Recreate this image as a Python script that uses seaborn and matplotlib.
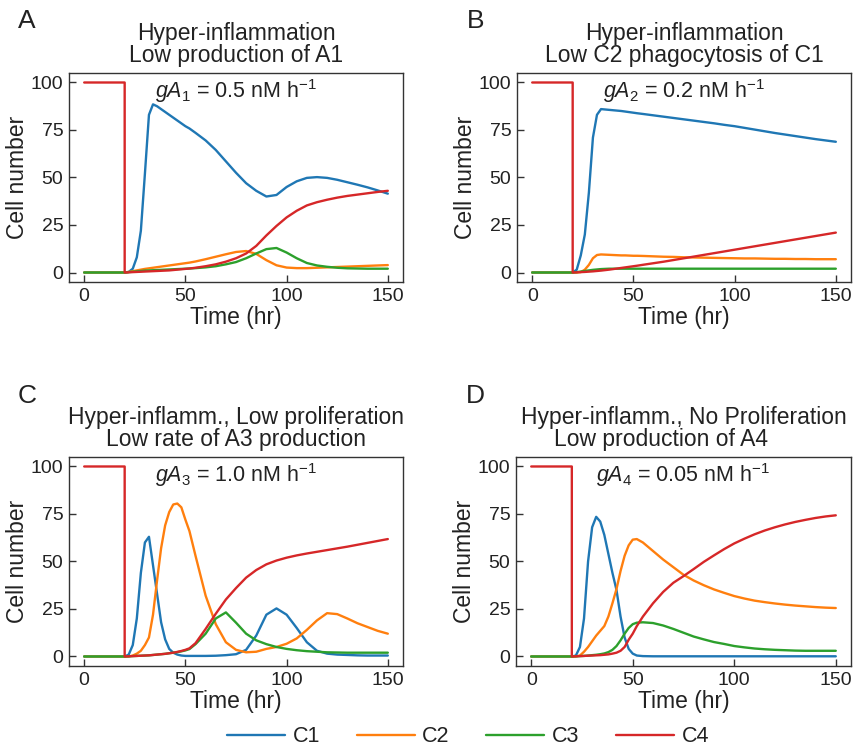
import pandas as pd
import seaborn as sns
import matplotlib
matplotlib.use("Agg")
import matplotlib.pyplot as plt

# time grid (hr) shared by every curve; 20 appears twice for the C4 drop
time_hr = [0, 20, 20, 22, 24, 26, 28, 30, 32, 34, 36, 38, 40, 42, 44, 46, 48, 50, 52,
           55, 60, 65, 70, 75, 80, 85, 90, 95, 100, 105, 110, 115, 120, 125, 130, 135, 140, 145, 150]

cells = ["C1", "C2", "C3", "C4"]
cell_colors = ["#1f77b4", "#ff7f0e", "#2ca02c", "#d62728"]

# Panel A
a_c1 = [0, 0, 0, 0.3, 2, 8, 22, 52, 83, 88.5, 87.5, 86, 84.5, 83, 81.5, 80, 78.5, 77, 75.8,
        73.5, 69.5, 64.5, 58.5, 52.5, 47, 43, 40, 40.8, 45, 48, 49.8, 50.2, 49.8, 48.8, 47.5, 46.2, 44.8, 43.2, 41.5]
a_c2 = [0, 0, 0, 0.3, 0.7, 1.1, 1.5, 1.9, 2.2, 2.5, 2.8, 3.1, 3.4, 3.7, 4, 4.3, 4.6, 4.9, 5.2,
        5.8, 7, 8.3, 9.6, 10.8, 11.3, 9.8, 6.5, 3.8, 2.6, 2.3, 2.3, 2.5, 2.7, 2.9, 3.1, 3.3, 3.5, 3.7, 3.9]
a_c3 = [0, 0, 0, 0.2, 0.4, 0.6, 0.8, 1, 1.1, 1.2, 1.3, 1.4, 1.5, 1.6, 1.7, 1.8, 1.9, 2, 2.1,
        2.3, 2.7, 3.3, 4.3, 5.5, 7.5, 10, 12.3, 12.9, 10.5, 7.5, 5, 3.7, 3, 2.5, 2.2, 2.1, 2, 2, 2]
a_c4 = [100, 100, 0, 0.1, 0.2, 0.3, 0.4, 0.5, 0.6, 0.7, 0.8, 0.9, 1, 1.1, 1.3, 1.5, 1.7, 1.9, 2.1,
        2.5, 3.3, 4.3, 5.7, 7.5, 10, 14, 19.5, 24.5, 29, 32.5, 35.3, 37, 38.3, 39.4, 40.3, 41, 41.7, 42.4, 43]

# Panel B
b_c1 = [0, 0, 0, 1.5, 9, 20, 42, 71, 83, 86, 85.8, 85.6, 85.4, 85.2, 85, 84.7, 84.4, 84.1, 83.8,
        83.4, 82.7, 82, 81.3, 80.6, 79.9, 79.2, 78.5, 77.7, 77, 76.1, 75.2, 74.3, 73.4, 72.6, 71.8, 71, 70.2, 69.5, 68.8]
b_c2 = [0, 0, 0, 0, 0.2, 1.5, 4, 7.5, 9.2, 9.5, 9.4, 9.3, 9.2, 9.1, 9, 9, 8.9, 8.8, 8.8,
        8.7, 8.5, 8.3, 8.2, 8, 7.9, 7.8, 7.7, 7.6, 7.5, 7.4, 7.4, 7.3, 7.2, 7.2, 7.1, 7.1, 7, 7, 7]
b_c3 = [0, 0, 0, 0.2, 0.5, 0.8, 1.1, 1.4, 1.6, 1.8, 1.9, 2, 2, 2, 2, 2, 2, 2, 2,
        2, 2, 2, 2, 2, 2, 2, 2, 2, 2, 2, 2, 2, 2, 2, 2, 2, 2, 2, 2]
b_c4 = [100, 100, 0, 0.1, 0.2, 0.3, 0.45, 0.6, 0.8, 1, 1.25, 1.5, 1.8, 2.1, 2.4, 2.7, 3, 3.3, 3.6,
        4.1, 4.9, 5.7, 6.6, 7.5, 8.4, 9.3, 10.2, 11.1, 12, 12.9, 13.8, 14.7, 15.6, 16.5, 17.4, 18.3, 19.2, 20.1, 21]

# Panel C
c_c1 = [0, 0, 0, 1, 6, 20, 44, 60, 63, 48, 33, 18, 9, 4, 2, 1, 0.5, 0.3, 0.3,
        0.3, 0.3, 0.4, 0.7, 1.2, 3.5, 11, 22, 25.3, 22, 15, 7.5, 3, 1.5, 1, 0.8, 0.6, 0.5, 0.5, 0.5]
c_c2 = [0, 0, 0, 0, 0.5, 1.5, 3, 6, 10, 22, 40, 57, 69, 76, 80, 80.5, 78.5, 72, 66,
        53, 32, 17, 7.5, 3.5, 2.2, 2.5, 4, 5, 6.7, 9.5, 14, 19, 22.8, 22.3, 20, 17.5, 15.5, 13.5, 12]
c_c3 = [0, 0, 0, 0.1, 0.2, 0.3, 0.4, 0.5, 0.6, 0.8, 1, 1.2, 1.4, 1.7, 2, 2.3, 2.7, 3.2, 3.9,
        6.5, 12, 20, 23.2, 17.8, 12, 8.5, 6.5, 5, 4, 3.3, 2.8, 2.5, 2.2, 2.1, 2, 2, 2, 2, 2]
c_c4 = [100, 100, 0, 0.1, 0.2, 0.3, 0.4, 0.5, 0.6, 0.8, 1, 1.2, 1.4, 1.7, 2, 2.4, 2.9, 3.5, 4.3,
        7, 14.5, 22.5, 30, 36, 41.5, 45.5, 48.5, 50.5, 52, 53.2, 54.2, 55.1, 56, 56.9, 57.8, 58.8, 59.8, 60.8, 61.8]

# Panel D
d_c1 = [0, 0, 0, 0.5, 5, 20, 50, 68, 73.5, 71, 64, 54, 44, 35, 21, 10, 4, 1.5, 0.5,
        0.2, 0.1, 0.1, 0.1, 0.1, 0.1, 0.1, 0.1, 0.1, 0.1, 0.1, 0.1, 0.1, 0.1, 0.1, 0.1, 0.1, 0.1, 0.1, 0.1]
d_c2 = [0, 0, 0, 0, 0.5, 2.5, 5, 8, 11, 13.5, 16, 21, 28, 35.5, 45, 53, 58.5, 61.5, 61.8,
        60, 55.5, 51, 47, 43, 40, 37.5, 35.3, 33.5, 31.8, 30.5, 29.4, 28.6, 27.9, 27.3, 26.8, 26.4, 26, 25.7, 25.5]
d_c3 = [0, 0, 0, 0.1, 0.2, 0.3, 0.5, 0.7, 0.9, 1.2, 1.6, 2.3, 3.5, 5.5, 8.5, 12, 15, 17, 17.8,
        18, 17.6, 16.3, 14.5, 12.5, 10.5, 9, 7.6, 6.6, 5.5, 4.8, 4.2, 3.8, 3.5, 3.3, 3.1, 3, 3, 3, 3]
d_c4 = [100, 100, 0, 0.1, 0.2, 0.3, 0.4, 0.5, 0.6, 0.7, 0.9, 1.1, 1.5, 2, 3, 5, 8.8, 12, 16,
        21, 28, 34, 38.8, 42.3, 46, 49.8, 53.2, 56.5, 59.5, 62, 64.3, 66.3, 68, 69.5, 70.8, 71.9, 72.9, 73.7, 74.3]

panel_letters = ["A", "B", "C", "D"]
panel_titles = [
    "Hyper-inflammation\nLow production of A1",
    "Hyper-inflammation\nLow C2 phagocytosis of C1",
    "Hyper-inflamm., Low proliferation\nLow rate of A3 production",
    "Hyper-inflamm., No Proliferation\nLow production of A4       ",
]
panel_notes = [
    r"$\mathit{gA}_{\mathit{1}}$ = 0.5 nM h$^{\mathregular{-1}}$",
    r"$\mathit{gA}_{\mathit{2}}$ = 0.2 nM h$^{\mathregular{-1}}$",
    r"$\mathit{gA}_{\mathit{3}}$ = 1.0 nM h$^{\mathregular{-1}}$",
    r"$\mathit{gA}_{\mathit{4}}$ = 0.05 nM h$^{\mathregular{-1}}$",
]
panel_data = [
    [a_c1, a_c2, a_c3, a_c4],
    [b_c1, b_c2, b_c3, b_c4],
    [c_c1, c_c2, c_c3, c_c4],
    [d_c1, d_c2, d_c3, d_c4],
]

sns.set_style("ticks")
plt.rcParams["font.family"] = ["Liberation Sans", "DejaVu Sans"]
plt.rcParams["mathtext.fontset"] = "custom"
plt.rcParams["mathtext.rm"] = "Liberation Sans"
plt.rcParams["mathtext.it"] = "Liberation Sans:italic"
plt.rcParams["text.color"] = "#222222"
plt.rcParams["axes.labelcolor"] = "#222222"

fig = plt.figure(figsize=(8.54, 7.51), dpi=100)

# axes boxes in figure fractions: left, bottom, width, height
boxes = [
    [0.0808, 0.6245, 0.3911, 0.2783],
    [0.6054, 0.6245, 0.3911, 0.2783],
    [0.0808, 0.1132, 0.3911, 0.2783],
    [0.6042, 0.1132, 0.3923, 0.2783],
]
letter_pos = [(0.021, 0.9627), (0.547, 0.9627), (0.021, 0.4634), (0.545, 0.4634)]

handles, labels = None, None
for i in range(4):
    ax = fig.add_axes(boxes[i])
    frames = []
    for name, vals in zip(cells, panel_data[i]):
        frames.append(pd.DataFrame({"Time": time_hr, "Count": vals, "Cell": name}))
    df = pd.concat(frames, ignore_index=True)
    sns.lineplot(data=df, x="Time", y="Count", hue="Cell", palette=cell_colors,
                 estimator=None, sort=False, lw=1.7, ax=ax, legend=(i == 0))
    if i == 0:
        handles, labels = ax.get_legend_handles_labels()
        ax.get_legend().remove()

    ax.set_xlim(-7.5, 157.5)
    ax.set_ylim(-5, 105)
    ax.set_xticks([0, 50, 100, 150])
    ax.set_yticks([0, 25, 50, 75, 100])
    ax.tick_params(direction="in", length=5, width=1, labelsize=14,
                   colors="#333333", labelcolor="#222222", pad=4)
    for sp in ax.spines.values():
        sp.set_color("#333333")
        sp.set_linewidth(1.0)
    ax.set_xlabel("Time (hr)", fontsize=16.5, labelpad=1)
    ax.set_ylabel("Cell number", fontsize=16.5, labelpad=1)
    ax.set_title(panel_titles[i], fontsize=16.5, linespacing=0.92, pad=8)
    ax.text(0.5, 0.88, panel_notes[i], transform=ax.transAxes, ha="center",
            va="baseline", fontsize=15.5)
    fig.text(letter_pos[i][0], letter_pos[i][1], panel_letters[i], fontsize=19,
             va="baseline", ha="left")

fig.legend(handles, labels, loc="center", bbox_to_anchor=(468 / 854, 0.019), ncol=4,
           frameon=False, fontsize=15.5, handlelength=2.7, handletextpad=0.35,
           columnspacing=1.7)

fig.savefig("out.png", dpi=100)
